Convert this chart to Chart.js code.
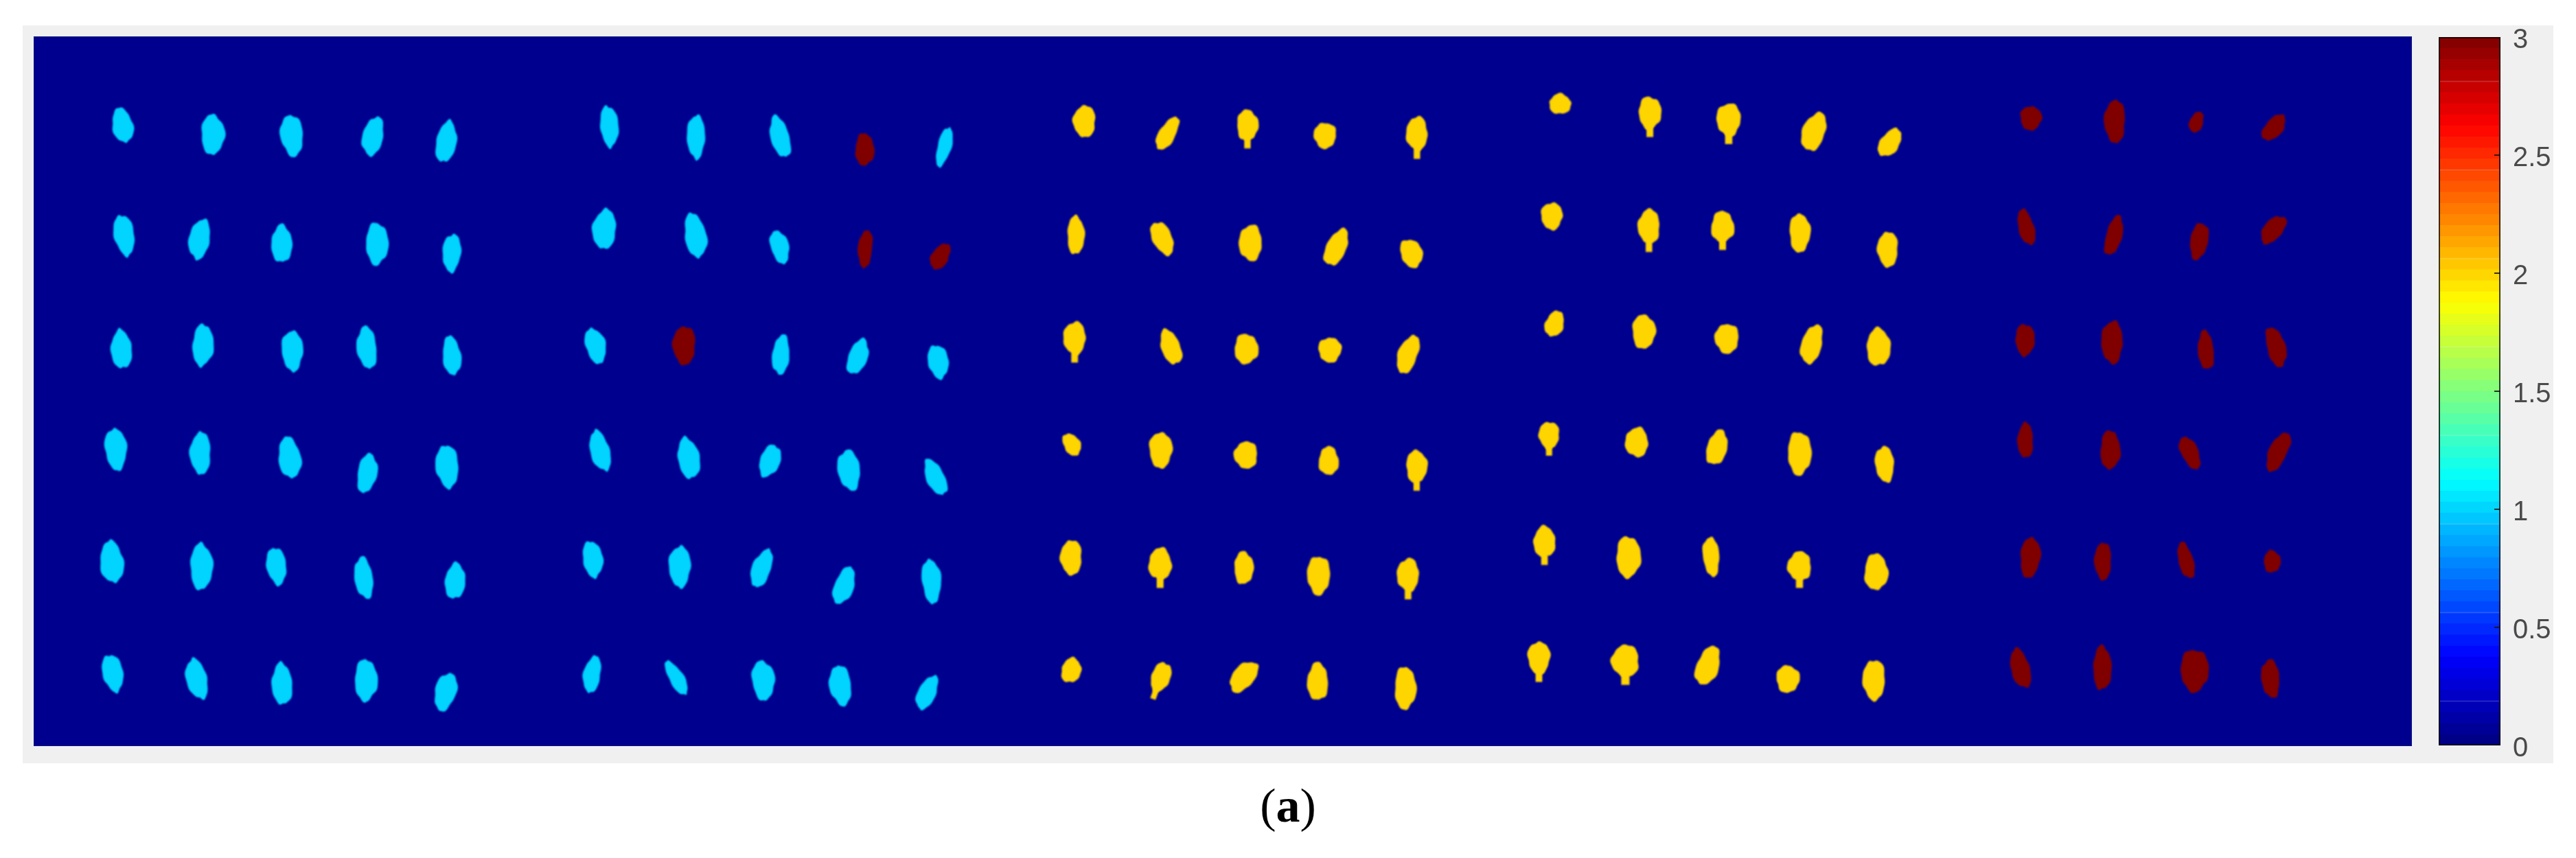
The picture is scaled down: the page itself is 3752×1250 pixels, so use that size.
<!DOCTYPE html>
<html>
<head>
<meta charset="utf-8">
<title>Label map</title>
<script src="https://cdn.jsdelivr.net/npm/chart.js@4"></script>
<style>
  html, body { margin: 0; padding: 0; background: #fff; }
  #panel { position: absolute; left: 33px; top: 37px; width: 3686px; height: 1075px; background: #f0f0f0; }
  #mapBox { position: absolute; left: 50px; top: 54px; width: 3462px; height: 1032px; background: #00008f;
            box-shadow: 0 0 0 1px #16166f, 0 0 0 3px #eef1fb; }
  #barBox { position: absolute; left: 3552px; top: 30px; width: 167px; height: 1080px; }
  #caption { position: absolute; left: 1776px; top: 1134px; width: 200px; text-align: center;
             font: 70px "Liberation Serif", serif; line-height: 80px; color: #000; }
</style>
</head>
<body>
<div id="panel"></div>
<div id="mapBox"><canvas id="mapChart"></canvas></div>
<div id="barBox"><canvas id="barChart"></canvas></div>
<div id="caption">(<b>a</b>)</div>
<script>
// spots, one line per row of the plate, left to right
const blobX = [
  288,582,840,1105,1344, 1876,2159,2433,2709,2969, 3426,3697,3958,4211,4511, 4978,5271,5528,5806,6054, 6514,6788,7054,7307,
  293,539,807,1118,1362, 1860,2157,2432,2711,2956, 3398,3680,3968,4248,4493, 4951,5268,5508,5760,6047, 6499,6785,7063,7305,
  284,550,842,1085,1362, 1831,2120,2436,2687,2949, 3394,3708,3954,4227,4482, 4960,5251,5522,5799,6017, 6495,6779,7085,7314,
  266,542,833,1086,1347, 1846,2135,2400,2658,2940, 3385,3675,3953,4223,4510, 4942,5228,5490,5759,6037, 6496,6773,7033,7321,
  253,545,790,1075,1373, 1822,2106,2373,2642,2927, 3383,3673,3946,4190,4482, 4927,5201,5471,5759,6009, 6512,6749,7020,7301,
  256,530,808,1082,1342, 1820,2095,2378,2630,2913, 3383,3671,3946,4187,4473, 4909,5191,5460,5721,6002, 6480,6747,7048,7296
];
const blobY = [
  194,214,216,218,230, 196,219,219,247,241, 185,212,202,216,221, 147,175,190,208,232, 178,185,187,199,
  435,444,454,454,474, 422,436,461,465,482, 435,442,452,462,475, 393,425,425,430,466, 418,436,448,423,
  686,677,689,682,700, 678,677,698,702,713, 670,681,685,687,697, 630,647,662,675,681, 665,670,688,681,
  905,914,924,958,943, 909,925,931,951,967, 895,907,918,931,952, 882,890,902,914,938, 886,907,913,911,
  1153,1163,1162,1188,1195, 1147,1163,1167,1205,1195, 1143,1166,1166,1182,1190, 1117,1142,1141,1170,1175, 1143,1151,1150,1152,
  1397,1410,1421,1413,1438, 1400,1408,1413,1424,1440, 1391,1414,1405,1416,1430, 1372,1379,1381,1410,1412, 1387,1386,1391,1409
];
const blobW = [
  73,77,77,73,71, 62,60,67,62,50, 73,65,70,73,70, 71,74,79,84,77, 70,68,50,73,
  71,73,69,74,62, 80,75,65,48,67, 56,75,75,76,80, 70,71,75,68,67, 56,57,62,78,
  71,71,71,67,62, 72,74,58,71,72, 73,70,78,75,72, 68,76,78,73,78, 63,70,53,66,
  74,68,77,68,77, 70,76,75,77,70, 65,75,76,65,69, 67,75,72,77,63, 51,65,65,69,
  80,74,68,63,69, 69,72,70,72,65, 70,75,63,75,72, 72,80,55,77,77, 67,55,53,55,
  73,75,69,75,77, 60,58,77,75,69, 70,70,90,68,70, 73,90,82,76,73, 67,60,92,61
];
const blobH = [
  80,90,94,90,95, 93,98,98,71,93, 70,85,85,57,93, 45,89,90,90,73, 53,95,49,72,
  94,92,84,94,86, 90,102,78,84,65, 85,81,79,90,66, 60,94,85,85,78, 83,92,83,77,
  87,94,91,96,89, 83,85,90,85,77, 90,83,66,55,91, 60,75,65,90,83, 70,94,87,92,
  95,95,94,90,97, 95,94,77,92,90, 55,79,60,63,89, 75,65,80,95,80, 78,85,80,97,
  95,104,85,95,81, 83,93,92,90,100, 77,88,72,85,90, 85,91,88,80,80, 90,83,84,49,
  86,94,94,94,89, 85,90,90,92,85, 57,88,84,83,94, 89,88,92,60,89, 91,97,93,85
];
const blobTilt = [
  -12,0,-6,12,10, -5,0,-15,0,15, 0,30,0,0,0, 0,0,0,20,35, 0,0,20,40,
  -10,10,0,0,4, 5,-10,-15,5,30, 0,-25,0,25,-20, 0,0,0,0,0, -15,15,10,40,
  -4,3,-2,-6,-6, -15,0,5,20,-10, 0,-20,0,0,20, 20,0,0,15,0, 0,0,-5,-15,
  -5,0,-8,10,-5, -15,-10,20,-8,-25, -30,0,0,0,0, 0,0,15,0,-5, 0,0,-25,25,
  -6,0,-8,-8,5, -8,0,20,20,-5, 0,0,0,0,0, 0,0,-5,0,0, 5,0,-15,0,
  -12,-14,-3,0,15, 10,-30,-5,-8,25, 15,20,40,0,0, 0,0,20,0,0, -15,0,0,-5
];
const blobClass = [
  1,1,1,1,1, 1,1,1,3,1, 2,2,2,2,2, 2,2,2,2,2, 3,3,3,3,
  1,1,1,1,1, 1,1,1,3,3, 2,2,2,2,2, 2,2,2,2,2, 3,3,3,3,
  1,1,1,1,1, 1,3,1,1,1, 2,2,2,2,2, 2,2,2,2,2, 3,3,3,3,
  1,1,1,1,1, 1,1,1,1,1, 2,2,2,2,2, 2,2,2,2,2, 3,3,3,3,
  1,1,1,1,1, 1,1,1,1,1, 2,2,2,2,2, 2,2,2,2,2, 3,3,3,3,
  1,1,1,1,1, 1,1,1,1,1, 2,2,2,2,2, 2,2,2,2,2, 3,3,3,3
];
// yellow spots that hang a short stem below the body
const stemmed = [12, 14, 16, 17, 40, 41, 58, 86, 87, 107, 110, 111, 114, 131, 135, 136];
const barTicks = [0, 0.5, 1, 1.5, 2, 2.5, 3];
const barLevels = 64;

const clamp = v => Math.max(0, Math.min(1, v));
function jet(t) {
  const r = clamp(1.5 - Math.abs(4 * t - 3));
  const g = clamp(1.5 - Math.abs(4 * t - 2));
  const b = clamp(1.5 - Math.abs(4 * t - 1));
  return 'rgb(' + Math.round(r * 255) + ',' + Math.round(g * 255) + ',' + Math.round(b * 255) + ')';
}

// one slightly lumpy sprite per spot, sized through the scales
const sprites = [];
function blobSprite(chart, i) {
  if (sprites[i]) return sprites[i];
  const sx = chart.scales.x, sy = chart.scales.y;
  const pw = Math.abs(sx.getPixelForValue(blobW[i]) - sx.getPixelForValue(0));
  const ph = Math.abs(sy.getPixelForValue(blobH[i]) - sy.getPixelForValue(0));
  if (!(pw > 0) || !(ph > 0)) return 'circle';   // scales not laid out yet
  const lean = Math.abs(Math.sin(blobTilt[i] * Math.PI / 180));
  const w = pw * (1 - 0.35 * lean);
  const h = ph * (1 - 0.1 * lean);
  const c = document.createElement('canvas');
  c.width = Math.ceil(w) + 10;
  c.height = Math.ceil(h) + 10;
  const g = c.getContext('2d');
  g.filter = 'blur(0.8px)';
  g.fillStyle = jet(blobClass[i] / 3);
  g.translate(c.width / 2, c.height / 2);
  const hasStem = stemmed.includes(i);
  const bodyH = hasStem ? h * 0.8 : h;
  const bodyY = hasStem ? -(h - bodyH) / 2 : 0;
  g.beginPath();
  const pointed = blobClass[i] === 1 ? 1.7 : 2;   // cyan spots have sharper ends
  for (let k = 0; k < 60; k++) {
    const a = k / 60 * Math.PI * 2;
    const lump = 1 + 0.05 * Math.sin(3 * a + i * 1.7) + 0.035 * Math.sin(5 * a + i * 2.3) + 0.025 * Math.sin(9 * a + i);
    const ca = Math.cos(a), sa = Math.sin(a);
    const px = Math.sign(ca) * Math.pow(Math.abs(ca), 2 / pointed) * lump * w / 2;
    const py = bodyY + sa * lump * bodyH / 2;
    if (k === 0) g.moveTo(px, py); else g.lineTo(px, py);
  }
  g.closePath();
  g.fill();
  if (hasStem) g.fillRect(-w * 0.15, 0, w * 0.3, h / 2);
  sprites[i] = c;
  return c;
}

new Chart(document.getElementById('mapChart'), {
  type: 'scatter',
  data: {
    datasets: [{
      data: blobX.map((x, i) => ({ x: x, y: blobY[i] })),
      pointStyle: ctx => blobSprite(ctx.chart, ctx.dataIndex),
      rotation: ctx => blobTilt[ctx.dataIndex],
      showLine: false
    }]
  },
  options: {
    responsive: true,
    maintainAspectRatio: false,
    animation: false,
    layout: { padding: 0, autoPadding: false },
    plugins: { legend: { display: false }, tooltip: { enabled: false } },
    scales: {
      x: { type: 'linear', min: 0, max: 7755, display: false },
      y: { type: 'linear', min: 0, max: 1556, reverse: true, display: false }
    }
  }
});

// colour bar: stacked slices of the jet map, with inward ticks
const barEdges = {
  id: 'barEdges',
  afterDatasetsDraw(chart) {
    const { ctx, chartArea: a, scales } = chart;
    ctx.save();
    ctx.strokeStyle = 'rgba(0,0,0,0.75)';
    ctx.lineWidth = 2;
    ctx.strokeRect(a.left + 1, a.top + 1, a.width - 2, a.height - 2);
    ctx.strokeStyle = 'rgba(20,20,20,0.85)';
    barTicks.slice(1, -1).forEach(v => {
      const y = scales.y.getPixelForValue(v);
      ctx.beginPath();
      ctx.moveTo(a.right - 9, y);
      ctx.lineTo(a.right, y);
      ctx.stroke();
    });
    ctx.restore();
  }
};

const levelSets = [];
for (let i = 0; i < barLevels; i++) {
  const col = jet((i + 0.5) / barLevels);
  levelSets.push({ data: [3 / barLevels], backgroundColor: col, borderColor: col, borderWidth: 1,
                   borderSkipped: false, barPercentage: 1, categoryPercentage: 1 });
}

new Chart(document.getElementById('barChart'), {
  type: 'bar',
  data: { labels: ['level'], datasets: levelSets },
  plugins: [barEdges],
  options: {
    responsive: true,
    maintainAspectRatio: false,
    animation: false,
    layout: { padding: { top: 24, bottom: 24, left: 0, right: 0 }, autoPadding: false },
    plugins: { legend: { display: false }, tooltip: { enabled: false } },
    scales: {
      x: { stacked: true, display: false },
      y: {
        stacked: true,
        position: 'right',
        min: 0,
        max: 3,
        afterBuildTicks: s => { s.ticks = barTicks.map(v => ({ value: v })); },
        afterFit: s => { s.width = 77; s.paddingTop = 0; s.paddingBottom = 0; },
        border: { display: false },
        grid: { display: false, drawTicks: false },
        ticks: {
          padding: 18,
          labelOffset: 5,
          color: '#4a4a4a',
          font: { family: '"Liberation Sans", Arial, sans-serif', size: 40 },
          callback: v => String(v)
        }
      }
    }
  }
});
</script>
</body>
</html>
